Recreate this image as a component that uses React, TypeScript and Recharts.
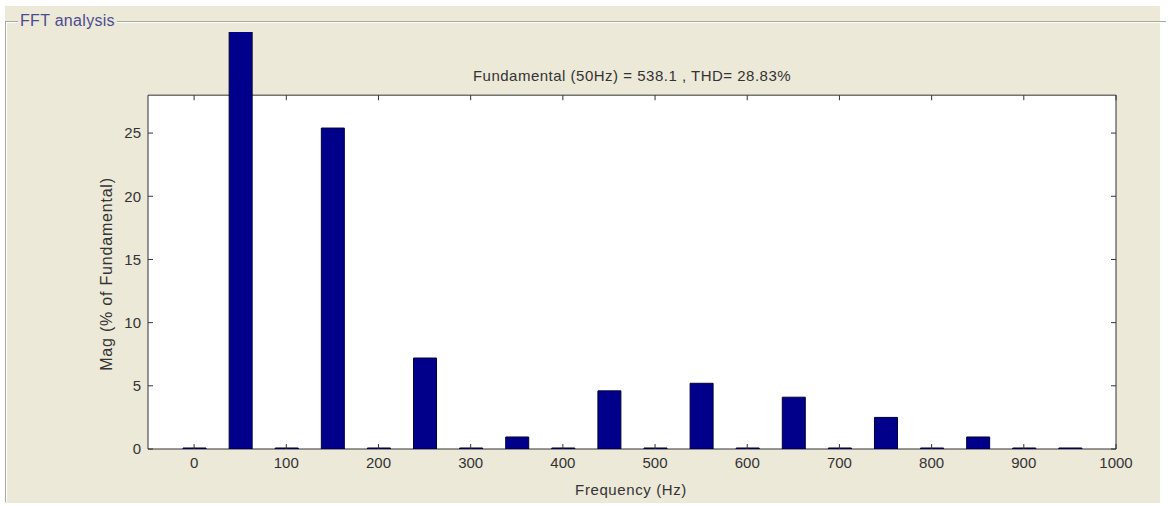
import { BarChart, Bar, XAxis, YAxis, ReferenceArea, ReferenceLine } from "recharts";

// harmonic bins of the FFT (Hz) and magnitude in % of fundamental
const freqs = [0, 50, 100, 150, 200, 250, 300, 350, 400, 450, 500, 550, 600, 650, 700, 750, 800, 850, 900, 950];
const magnitudes = [0.08, 100, 0.08, 25.4, 0.08, 7.2, 0.08, 0.95, 0.08, 4.6, 0.08, 5.2, 0.08, 4.1, 0.08, 2.5, 0.08, 0.95, 0.08, 0.08];

const xTicks = [0, 100, 200, 300, 400, 500, 600, 700, 800, 900, 1000];
const yTicks = [0, 5, 10, 15, 20, 25];
const xLimits = [-50, 1000];
const yAxisTop = 28; // top of the axes box
const yCanvasTop = 33; // space above the box where the fundamental bar overflows

const data = freqs.map((f, i) => ({ freq: f, mag: magnitudes[i] }));

const FONT = '"Liberation Sans", Arial, sans-serif';
const INK = "#333";
const PANEL = "#ECE9D8";

export default function App() {
  return (
    <div style={{ position: "absolute", left: 0, top: 0, width: 1169, height: 506, background: "#fff", overflow: "hidden", fontFamily: FONT }}>
      <div style={{ position: "absolute", left: 5, top: 6, width: 1155, height: 497, background: PANEL }} />
      {/* group box frame */}
      <div
        style={{
          position: "absolute",
          left: 5,
          top: 21,
          width: 1160,
          height: 480,
          borderTop: "1px solid #aca899",
          borderLeft: "1px solid #aca899",
          boxShadow: "inset 1px 1px 0 #fff",
        }}
      />
      <div style={{ position: "absolute", left: 18, top: 12, padding: "0 2px", background: PANEL, color: "#4b4b8f", fontSize: 16, lineHeight: "17px", letterSpacing: 0.3 }}>
        FFT analysis
      </div>

      <div style={{ position: "absolute", left: 0, top: 0 }}>
        <BarChart width={1169} height={506} data={data} margin={{ top: 32, right: 0, bottom: 0, left: 0 }}>
          <XAxis
            dataKey="freq"
            type="number"
            domain={xLimits}
            ticks={xTicks}
            interval={0}
            allowDataOverflow
            height={57}
            axisLine={false}
            tickSize={-5}
            tickMargin={13}
            tickLine={{ stroke: INK }}
            tick={{ fill: INK, fontSize: 15, fontFamily: FONT }}
          />
          <YAxis
            yAxisId="left"
            type="number"
            domain={[0, yCanvasTop]}
            ticks={yTicks}
            allowDataOverflow
            width={148}
            axisLine={false}
            tickSize={-5}
            tickMargin={12}
            tickLine={{ stroke: INK }}
            tick={{ fill: INK, fontSize: 15, fontFamily: FONT }}
          />
          <YAxis
            yAxisId="right"
            orientation="right"
            type="number"
            domain={[0, yCanvasTop]}
            ticks={yTicks}
            allowDataOverflow
            width={53}
            axisLine={false}
            tickSize={-5}
            tickLine={{ stroke: INK }}
            tickFormatter={() => ""}
          />
          <ReferenceArea yAxisId="left" y1={0} y2={yAxisTop} fill="#fff" fillOpacity={1} stroke={INK} strokeWidth={1} />
          {xTicks.map((t) => (
            <ReferenceLine
              key={t}
              yAxisId="left"
              segment={[
                { x: t, y: yAxisTop },
                { x: t, y: yAxisTop - 0.4 },
              ]}
              stroke={INK}
            />
          ))}
          <Bar yAxisId="left" dataKey="mag" fill="#00008B" stroke="#00003a" strokeWidth={1} barSize={23} isAnimationActive={false} />
        </BarChart>
      </div>

      <div style={{ position: "absolute", left: 632, top: 75, transform: "translate(-50%, -50%)", color: INK, fontSize: 15, letterSpacing: 0.5, whiteSpace: "nowrap" }}>
        Fundamental (50Hz) = 538.1 , THD= 28.83%
      </div>
      <div style={{ position: "absolute", left: 631, top: 489, transform: "translate(-50%, -50%)", color: INK, fontSize: 15, letterSpacing: 0.6, whiteSpace: "nowrap" }}>
        Frequency (Hz)
      </div>
      <div style={{ position: "absolute", left: 107, top: 274, transform: "translate(-50%, -50%) rotate(-90deg)", color: INK, fontSize: 16, letterSpacing: 0.8, whiteSpace: "nowrap" }}>
        Mag (% of Fundamental)
      </div>
    </div>
  );
}
